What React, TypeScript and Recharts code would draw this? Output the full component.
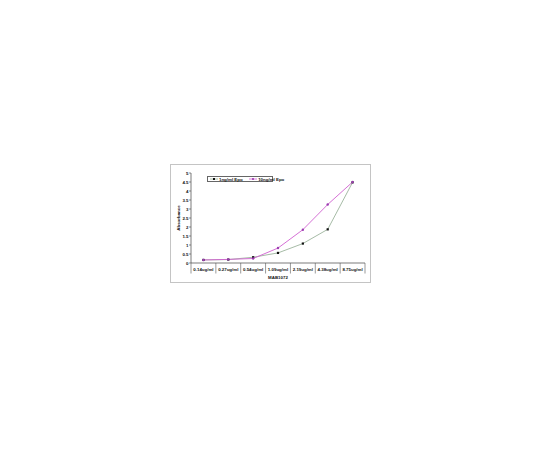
import { ComposedChart, Line, XAxis, YAxis } from 'recharts';

const concentrations = ['0.14ug/ml', '0.27ug/ml', '0.54ug/ml', '1.09ug/ml', '2.19ug/ml', '4.38ug/ml', '8.75ug/ml'];
const epo1 = [0.17, 0.19, 0.32, 0.56, 1.08, 1.87, 4.48];
const epo10 = [0.17, 0.2, 0.25, 0.83, 1.85, 3.25, 4.5];
const yTicks = [0, 0.5, 1, 1.5, 2, 2.5, 3, 3.5, 4, 4.5, 5];

const data = concentrations.map((c, i) => ({ conc: c, epo1: epo1[i], epo10: epo10[i] }));

const FONT = '"Liberation Sans", Arial, sans-serif';
const W = 199;
const H = 117;
const MARGIN = { top: 8, right: 5, bottom: 0, left: 0 };
const Y_W = 20;
const X_H = 19;
const BAND = (W - MARGIN.left - MARGIN.right - Y_W) / concentrations.length;
const PAD = { left: BAND / 2, right: BAND / 2 };

const GREEN = '#8fa98f';
const PINK = '#d060d0';
const PURPLE = '#9a3cb0';

function CatTick(props: any) {
  const { x, y, payload, index } = props;
  return (
    <g>
      {index === 0 && <line x1={x - BAND / 2} x2={x - BAND / 2} y1={y} y2={y + 10.5} stroke="#555" strokeWidth={0.6} />}
      <line x1={x + BAND / 2} x2={x + BAND / 2} y1={y} y2={y + 10.5} stroke="#555" strokeWidth={0.6} />
      <text x={x} y={y + 7.8} textAnchor="middle" fontSize={4.4} fontWeight="bold" fontFamily={FONT} fill="#111">
        {payload.value}
      </text>
    </g>
  );
}

function SquareDot(props: any) {
  const { cx, cy } = props;
  if (cx == null || cy == null) return null;
  return <rect x={cx - 1.1} y={cy - 1.1} width={2.2} height={2.2} fill="#111" />;
}

function RoundDot(props: any) {
  const { cx, cy } = props;
  if (cx == null || cy == null) return null;
  return <circle cx={cx} cy={cy} r={1.2} fill={PURPLE} />;
}

function LegendBox() {
  const item = (color: string, marker: JSX.Element, text: string) => (
    <span style={{ display: 'inline-flex', alignItems: 'center', marginRight: 6 }}>
      <svg width={8} height={4} style={{ marginRight: 1.5 }}>
        <line x1={0} x2={8} y1={2} y2={2} stroke={color} strokeWidth={0.8} />
        {marker}
      </svg>
      {text}
    </span>
  );
  return (
    <div
      style={{
        position: 'absolute',
        left: 36,
        top: 11,
        width: 66,
        height: 6,
        border: '0.6px solid #666',
        boxSizing: 'border-box',
        background: '#fff',
        fontFamily: FONT,
        fontSize: 4.4,
        fontWeight: 'bold',
        lineHeight: '5px',
        display: 'flex',
        alignItems: 'center',
        paddingLeft: 1.5,
        whiteSpace: 'nowrap',
        color: '#111',
      }}
    >
      {item(GREEN, <rect x={3} y={1} width={2} height={2} fill="#111" />, '1ng/ml Epo')}
      {item(PINK, <circle cx={4} cy={2} r={1.1} fill={PURPLE} />, '10ng/ml Epo')}
    </div>
  );
}

export default function App() {
  return (
    <div
      style={{
        position: 'absolute',
        left: 170,
        top: 164,
        width: W + 2,
        height: H + 2,
        border: '1px solid #c4c4c4',
        boxSizing: 'border-box',
        background: '#fff',
      }}
    >
      <div style={{ position: 'relative', width: W, height: H }}>
        <ComposedChart width={W} height={H} data={data} margin={MARGIN}>
          <XAxis
            dataKey="conc"
            height={X_H}
            padding={PAD}
            tick={<CatTick />}
            tickLine={false}
            tickSize={0}
            tickMargin={0}
            interval={0}
            axisLine={{ stroke: '#444', strokeWidth: 0.7 }}
            label={{ value: 'MAB1072', position: 'insideBottom', offset: 3, fontSize: 4.4, fontWeight: 'bold', fontFamily: FONT, fill: '#111' }}
          />
          <XAxis xAxisId="top" dataKey="conc" orientation="top" height={0} padding={PAD} tick={false} tickLine={false} axisLine={{ stroke: '#c8c8c8', strokeWidth: 0.6 }} />
          <YAxis
            width={Y_W}
            domain={[0, 5]}
            ticks={yTicks}
            interval={0}
            tickSize={2}
            tickMargin={0.5}
            tickLine={{ stroke: '#444', strokeWidth: 0.6 }}
            axisLine={{ stroke: '#444', strokeWidth: 0.7 }}
            tick={{ fontSize: 4.4, fontWeight: 'bold', fontFamily: FONT, fill: '#111' }}
            label={{ value: 'Absorbance', angle: -90, position: 'center', dx: -3, fontSize: 4.4, fontWeight: 'bold', fontFamily: FONT, fill: '#111' }}
          />
          <YAxis yAxisId="right" orientation="right" width={0} domain={[0, 5]} tick={false} tickLine={false} axisLine={{ stroke: '#c8c8c8', strokeWidth: 0.6 }} />
          <Line dataKey="epo1" stroke={GREEN} strokeWidth={0.8} dot={<SquareDot />} isAnimationActive={false} />
          <Line dataKey="epo10" stroke={PINK} strokeWidth={0.9} dot={<RoundDot />} isAnimationActive={false} />
        </ComposedChart>
        <LegendBox />
      </div>
    </div>
  );
}
